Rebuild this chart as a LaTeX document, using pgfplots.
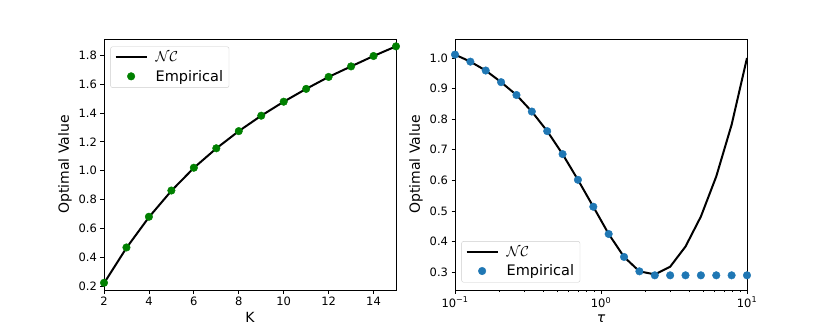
\documentclass[border=0pt]{standalone}
\usepackage{fontspec}
\setmainfont{DejaVu Sans}
\usepackage{pgfplots}
\pgfplotsset{compat=1.18}

\definecolor{mplgreen}{RGB}{0,128,0}
\definecolor{mplblue}{RGB}{31,119,180}

\pgfplotsset{
  panel/.style={
    width=292pt, height=251pt, scale only axis,
    anchor=south west,
    axis line style={black, line width=0.8pt},
    tick align=outside,
    xtick pos=bottom, ytick pos=left,
    major tick length=3.5pt, minor tick length=2pt,
    every tick/.style={black, line width=0.8pt},
    tick label style={font=\fontsize{11.5}{13}\selectfont},
    label style={font=\fontsize{14}{16}\selectfont},
    /pgf/number format/assume math mode=true,
    ylabel={Optimal Value},
    legend cell align=left,
    legend style={draw=black!20, rounded corners=2pt, fill=white,
      font=\fontsize{14.5}{17}\selectfont, inner xsep=4pt, inner ysep=3pt,
      row sep=3pt,
      /tikz/every odd column/.append style={column sep=6pt}},
  },
  lineleg/.style={legend image code/.code={\draw[##1] (0pt,0pt) -- (31pt,0pt);}},
  dotleg/.style={legend image code/.code={\path[##1] (0pt,0pt) (31pt,0pt) plot coordinates {(15.5pt,0pt)};}},
}

\begin{document}
\begin{tikzpicture}
\path[use as bounding box] (0,0) rectangle (830pt,332pt);

% left panel: optimal value vs K
\begin{axis}[panel, at={(104pt,42pt)},
  xmin=2, xmax=15, ymin=0.172, ymax=1.913,
  xtick={2,4,...,14}, ytick={0.2,0.4,...,1.8},
  yticklabel style={/pgf/number format/.cd, fixed, fixed zerofill, precision=1},
  xlabel={K},
  legend style={at={(0.022,0.97)}, anchor=north west},
  clip=false,
]
\addplot[black, line width=2pt, lineleg] coordinates {
  (2,0.219) (3,0.464) (4,0.677) (5,0.860) (6,1.019) (7,1.154) (8,1.274)
  (9,1.381) (10,1.478) (11,1.567) (12,1.650) (13,1.723) (14,1.795) (15,1.862)
};
\addlegendentry{$\mathcal{NC}$}
\addplot[only marks, mark=*, mark size=3.8pt, color=mplgreen, dotleg] coordinates {
  (2,0.222) (3,0.467) (4,0.680) (5,0.862) (6,1.020) (7,1.155) (8,1.274)
  (9,1.381) (10,1.478) (11,1.567) (12,1.650) (13,1.723) (14,1.795) (15,1.862)
};
\addlegendentry{Empirical}
\end{axis}

% right panel: optimal value vs tau
\begin{axis}[panel, at={(455pt,42pt)},
  xmode=log, xmin=0.1, xmax=10, ymin=0.242, ymax=1.062,
  xtick={0.1,1,10}, xticklabels={10\textsuperscript{−1},10\textsuperscript{0},10\textsuperscript{1}},
  ytick={0.3,0.4,...,1.0},
  yticklabel style={/pgf/number format/.cd, fixed, fixed zerofill, precision=1},
  xlabel={\textit{τ}},
  legend style={at={(0.022,0.03)}, anchor=south west},
  clip=false,
]
\addplot[black, line width=2pt, lineleg] coordinates {
  (0.1,1.011) (0.12743,0.988) (0.16238,0.959) (0.20691,0.921) (0.26367,0.879)
  (0.33598,0.825) (0.42813,0.761) (0.54556,0.686) (0.69519,0.602) (0.88587,0.514)
  (1.12884,0.425) (1.43845,0.350) (1.83298,0.303) (2.33572,0.293) (2.97635,0.318)
  (3.79269,0.384) (4.83293,0.482) (6.15848,0.613) (7.8476,0.782) (10,1.0)
};
\addlegendentry{$\mathcal{NC}$}
\addplot[only marks, mark=*, mark size=3.8pt, color=mplblue, dotleg] coordinates {
  (0.1,1.011) (0.12743,0.988) (0.16238,0.959) (0.20691,0.921) (0.26367,0.879)
  (0.33598,0.825) (0.42813,0.761) (0.54556,0.686) (0.69519,0.602) (0.88587,0.514)
  (1.12884,0.425) (1.43845,0.350) (1.83298,0.303) (2.33572,0.290) (2.97635,0.290)
  (3.79269,0.290) (4.83293,0.290) (6.15848,0.290) (7.8476,0.290) (10,0.290)
};
\addlegendentry{Empirical}
\end{axis}
\end{tikzpicture}
\end{document}
